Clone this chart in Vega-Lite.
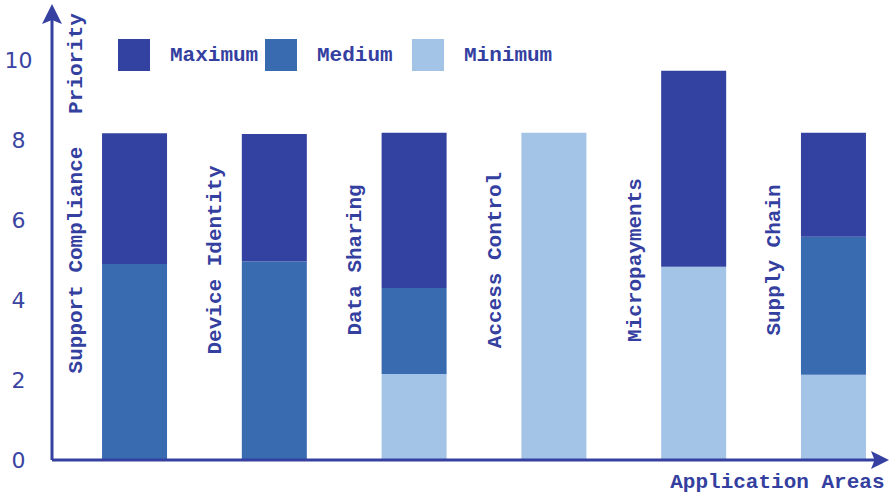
{
  "$schema": "https://vega.github.io/schema/vega-lite/v6.json",
  "width": 833,
  "height": 460,
  "autosize": {"type": "none"},
  "padding": {"left": 52, "top": 0, "right": 6, "bottom": 34},
  "background": "white",
  "config": {"view": {"stroke": null}, "font": "Liberation Mono"},
  "datasets": {
    "bars": [
      {"area": "Support Compliance", "level": "Medium", "value": 4.9},
      {"area": "Support Compliance", "level": "Maximum", "value": 3.27},
      {"area": "Device Identity", "level": "Medium", "value": 4.96},
      {"area": "Device Identity", "level": "Maximum", "value": 3.19},
      {"area": "Data Sharing", "level": "Minimum", "value": 2.15},
      {"area": "Data Sharing", "level": "Medium", "value": 2.15},
      {"area": "Data Sharing", "level": "Maximum", "value": 3.88},
      {"area": "Access Control", "level": "Minimum", "value": 8.18},
      {"area": "Micropayments", "level": "Minimum", "value": 4.83},
      {"area": "Micropayments", "level": "Maximum", "value": 4.9},
      {"area": "Supply Chain", "level": "Minimum", "value": 2.13},
      {"area": "Supply Chain", "level": "Medium", "value": 3.45},
      {"area": "Supply Chain", "level": "Maximum", "value": 2.6}
    ],
    "areas": [
      {"area": "Support Compliance"},
      {"area": "Device Identity"},
      {"area": "Data Sharing"},
      {"area": "Access Control"},
      {"area": "Micropayments"},
      {"area": "Supply Chain"}
    ]
  },
  "layer": [
    {
      "layer": [
        {
          "data": {"name": "bars"},
          "mark": {"type": "bar"},
          "encoding": {
            "x": {
              "field": "area",
              "type": "nominal",
              "sort": null,
              "scale": {
                "domain": ["Support Compliance", "Device Identity", "Data Sharing", "Access Control", "Micropayments", "Supply Chain"],
                "range": [0, 864],
                "paddingInner": 0.535,
                "paddingOuter": 0.358
              },
              "axis": {
                "labels": false,
                "ticks": false,
                "domain": false,
                "grid": false,
                "title": "Application Areas",
                "titleX": 832,
                "titleY": 21,
                "titleAlign": "right",
                "titleAnchor": "end",
                "titleBaseline": "middle",
                "titleFont": "Liberation Mono",
                "titleFontSize": 21,
                "titleFontWeight": "bold",
                "titleColor": "#3440a0"
              }
            },
            "y": {
              "field": "value",
              "type": "quantitative",
              "stack": "zero",
              "scale": {"domain": [0, 11.5], "nice": false},
              "axis": {
                "values": [0, 2, 4, 6, 8, 10],
                "domain": false,
                "ticks": false,
                "tickSize": 0,
                "grid": false,
                "labelFont": "DejaVu Sans",
                "labelFontSize": 22,
                "labelColor": "#3a44a2",
                "labelAlign": "center",
                "labelBaseline": "middle",
                "labelPadding": 34,
                "title": "Priority",
                "titleX": 23,
                "titleY": 63,
                "titleAngle": 270,
                "titleAlign": "center",
                "titleBaseline": "middle",
                "titleFont": "Liberation Mono",
                "titleFontSize": 21,
                "titleFontWeight": "bold",
                "titleColor": "#3440a0"
              }
            },
            "color": {
              "field": "level",
              "type": "nominal",
              "scale": {"domain": ["Maximum", "Medium", "Minimum"], "range": ["#3342a0", "#386bb0", "#a4c4e7"]},
              "legend": {
                "orient": "none",
                "legendX": 66,
                "legendY": 39,
                "direction": "horizontal",
                "title": null,
                "symbolType": "square",
                "symbolSize": 1024,
                "symbolStrokeWidth": 0,
                "symbolOpacity": 1,
                "labelFont": "Liberation Mono",
                "labelFontSize": 21,
                "labelFontWeight": "bold",
                "labelColor": "#3440a0",
                "labelOffset": 20,
                "columnPadding": 6,
                "gridAlign": "all"
              }
            },
            "order": {"field": "level", "sort": "descending"}
          }
        },
        {
          "data": {"name": "areas"},
          "mark": {
            "type": "text",
            "angle": 270,
            "dy": -59,
            "align": "center",
            "baseline": "middle",
            "font": "Liberation Mono",
            "fontSize": 21,
            "fontWeight": "bold",
            "color": "#3440a0"
          },
          "encoding": {
            "x": {"field": "area", "type": "nominal", "sort": null},
            "y": {"datum": 5, "type": "quantitative"},
            "text": {"field": "area"}
          }
        }
      ]
    },
    {
      "data": {"values": [{}]},
      "layer": [
        {
          "mark": {"type": "rule", "strokeWidth": 3, "color": "#3540a0"},
          "encoding": {
            "x": {"datum": 0, "type": "quantitative", "scale": {"domain": [0, 1], "nice": false, "zero": false}, "axis": null},
            "y": {"datum": 0, "type": "quantitative"},
            "y2": {"datum": 11.0}
          }
        },
        {
          "mark": {"type": "rule", "strokeWidth": 3, "color": "#3540a0"},
          "encoding": {
            "x": {"datum": 0, "type": "quantitative"},
            "x2": {"datum": 0.99},
            "y": {"datum": 0, "type": "quantitative"}
          }
        },
        {
          "mark": {"type": "point", "filled": true, "opacity": 1, "color": "#3540a0", "shape": "M0,-1L1,1L0,0.6L-1,1Z", "size": 400},
          "encoding": {
            "x": {"datum": 0, "type": "quantitative"},
            "y": {"datum": 11.15, "type": "quantitative"}
          }
        },
        {
          "mark": {"type": "point", "filled": true, "opacity": 1, "color": "#3540a0", "shape": "M1,0L-1,1L-0.6,0L-1,-1Z", "size": 324},
          "encoding": {
            "x": {"datum": 0.994, "type": "quantitative"},
            "y": {"datum": 0, "type": "quantitative"}
          }
        }
      ]
    }
  ],
  "resolve": {"scale": {"x": "independent"}}
}
